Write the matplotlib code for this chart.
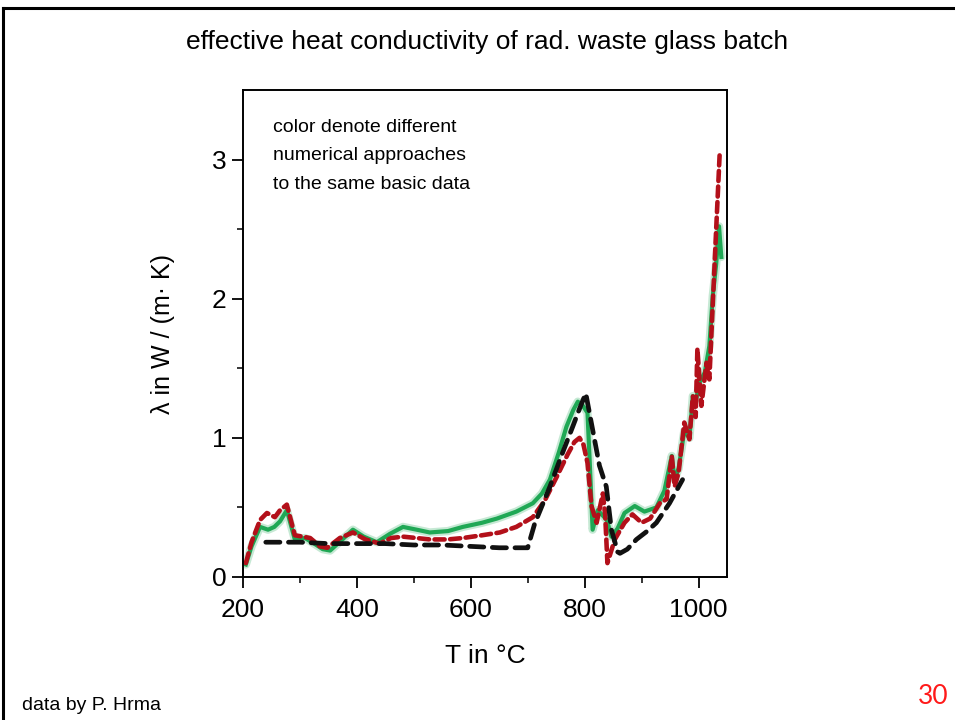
import matplotlib
matplotlib.use("Agg")
import matplotlib.pyplot as plt
from matplotlib.lines import Line2D
from matplotlib import font_manager

avail = {f.name for f in font_manager.fontManager.ttflist}
FAM = [f for f in ['Liberation Sans Narrow', 'Liberation Sans', 'DejaVu Sans'] if f in avail]
plt.rcParams['font.family'] = FAM

# ---------------- data ----------------
green_T = [205, 215, 230, 244, 255, 265, 277, 291, 309, 325, 340, 353, 372, 393, 412, 435,
           458, 481, 505, 528, 560, 586, 620, 646, 680, 709, 725, 739, 755, 768, 780, 788,
           797, 805, 809, 814, 823, 839, 847, 858, 870, 888, 905, 926, 940, 953, 958, 965,
           975, 984, 990, 996, 1002, 1011, 1019, 1025, 1031, 1036, 1040]
green_v = [0.09, 0.22, 0.36, 0.34, 0.36, 0.40, 0.48, 0.27, 0.28, 0.24, 0.20, 0.19, 0.26, 0.34, 0.29, 0.25,
           0.31, 0.36, 0.34, 0.32, 0.33, 0.36, 0.39, 0.42, 0.47, 0.53, 0.60, 0.70, 0.90, 1.08, 1.20, 1.26,
           1.23, 1.18, 0.82, 0.34, 0.48, 0.41, 0.29, 0.35, 0.46, 0.51, 0.47, 0.50, 0.62, 0.87, 0.70, 0.78,
           1.05, 1.00, 1.30, 1.28, 1.40, 1.47, 1.66, 2.02, 2.25, 2.52, 2.30]

red_T = [205, 215, 230, 242, 256, 265, 277, 291, 305, 318, 335, 348, 370, 393, 415, 440,
         460, 481, 505, 528, 560, 586, 620, 651, 680, 709, 730, 751, 770, 782, 791, 798,
         805, 812, 821, 832, 836, 840, 853, 870, 884, 900, 915, 932, 944, 953, 958, 965,
         975, 984, 990, 995, 998, 1005, 1014, 1019, 1023, 1031, 1037]
red_v = [0.10, 0.25, 0.41, 0.46, 0.43, 0.48, 0.52, 0.30, 0.29, 0.28, 0.22, 0.21, 0.28, 0.32, 0.27, 0.24,
         0.28, 0.29, 0.28, 0.27, 0.27, 0.28, 0.30, 0.32, 0.36, 0.43, 0.55, 0.72, 0.88, 0.97, 1.00, 0.95,
         0.82, 0.51, 0.39, 0.60, 0.45, 0.10, 0.27, 0.39, 0.45, 0.39, 0.42, 0.53, 0.56, 0.87, 0.65, 0.75,
         1.11, 0.99, 1.30, 1.15, 1.64, 1.23, 1.54, 1.42, 1.78, 2.50, 3.03]

black_T = [240, 300, 350, 400, 450, 500, 550, 600, 650, 700, 712, 739, 760, 779, 792, 802,
           814, 826, 838, 847, 858, 862, 875, 891, 910, 926, 949, 972]
black_v = [0.25, 0.25, 0.24, 0.24, 0.24, 0.23, 0.23, 0.22, 0.21, 0.21, 0.38, 0.65, 0.88, 1.08, 1.22, 1.32,
           1.06, 0.80, 0.65, 0.34, 0.18, 0.17, 0.20, 0.27, 0.33, 0.39, 0.53, 0.70]

x_ticks = [200, 400, 600, 800, 1000]
y_ticks = [0, 1, 2, 3]

# ---------------- figure ----------------
fig = plt.figure(figsize=(9.55, 7.2), dpi=100)
fig.patch.set_facecolor('white')

# slide border (top and left)
fig.add_artist(Line2D([3/955, 1.0], [1 - 8/720, 1 - 8/720], color='black', lw=2.2,
                      transform=fig.transFigure))
fig.add_artist(Line2D([3/955, 3/955], [0, 1 - 8/720], color='black', lw=2.2,
                      transform=fig.transFigure))

ax = fig.add_axes([243/955, 1 - 577/720, (727 - 243)/955, (577 - 90)/720])
ax.set_xlim(200, 1050)
ax.set_ylim(0, 3.5)

GREEN = '#1fa855'
RED = '#b3101a'

ax.plot(green_T, green_v, color=GREEN, lw=6.0, alpha=0.25, solid_capstyle='round')
ax.plot(green_T, green_v, color=GREEN, lw=3.0, solid_joinstyle='round')
ax.plot(red_T, red_v, color=RED, lw=3.3, dashes=(2.2, 1.2), dash_capstyle='round')
ax.plot(black_T, black_v, color='#111111', lw=3.4, dashes=(3.0, 1.8), dash_capstyle='round')

ax.set_xticks(x_ticks)
ax.set_yticks(y_ticks)
ax.set_xticks([300, 500, 700, 900], minor=True)
ax.set_yticks([0.5, 1.5, 2.5], minor=True)
ax.tick_params(which='major', direction='out', length=8, width=1.3, labelsize=19)
ax.tick_params(axis='x', which='major', pad=7)
ax.tick_params(axis='y', which='major', pad=4)
ax.tick_params(which='minor', direction='out', length=4, width=1.1)
for s in ax.spines.values():
    s.set_linewidth(1.4)

ax.set_xlabel('T in °C', fontsize=19, labelpad=16)
ax.set_ylabel('λ in W / (m· K)', fontsize=18, labelpad=26)

ax.text(0.063, 0.941, 'color denote different\nnumerical approaches\nto the same basic data',
        transform=ax.transAxes, ha='left', va='top', fontsize=14, linespacing=1.9)

fig.text(487/955, 1 - 42/720, 'effective heat conductivity of rad. waste glass batch',
         ha='center', va='center', fontsize=19)
fig.text(22/955, 1 - 706/720, 'data by P. Hrma', ha='left', va='center', fontsize=14)
fig.text(948/955, 1 - 697/720, '30', ha='right', va='center', fontsize=19, color='#ff1a1a',
         family=['Lato', 'DejaVu Sans'])

fig.savefig('out.png', dpi=100)
